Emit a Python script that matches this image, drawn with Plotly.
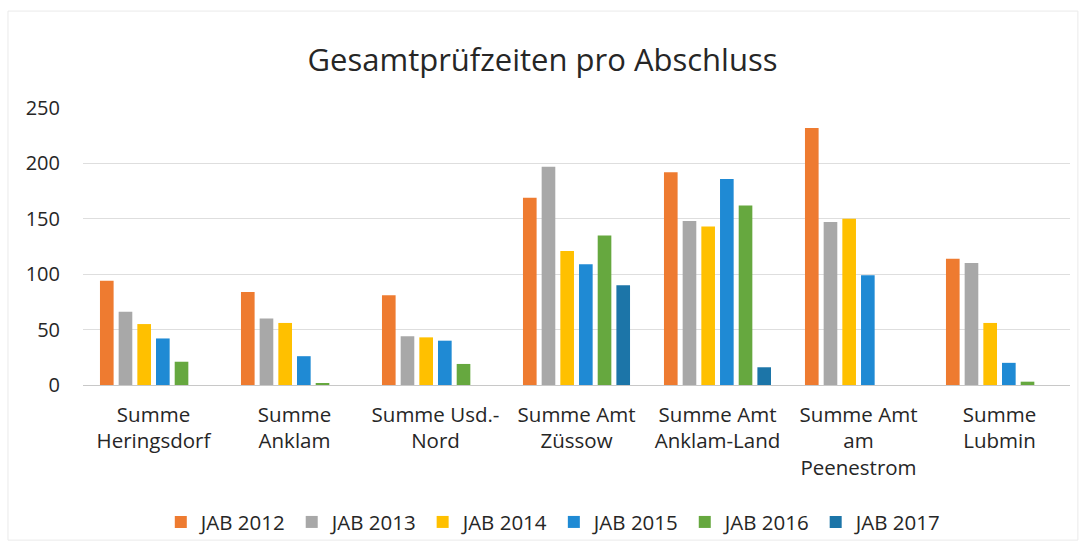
import plotly.graph_objects as go

categories = ["Summe<br>Heringsdorf", "Summe<br>Anklam", "Summe Usd.-<br>Nord",
              "Summe Amt<br>Züssow", "Summe Amt<br>Anklam-Land", "Summe Amt<br>am<br>Peenestrom",
              "Summe<br>Lubmin"]

jab_2012 = [94, 84, 81, 169, 192, 232, 114]
jab_2013 = [66, 60, 44, 197, 148, 147, 110]
jab_2014 = [55, 56, 43, 121, 143, 150, 56]
jab_2015 = [42, 26, 40, 109, 186, 99, 20]
jab_2016 = [21, 1, 19, 135, 162, None, 3]
jab_2017 = [None, None, None, 90, 16, None, None]

series_names = ["JAB 2012", "JAB 2013", "JAB 2014", "JAB 2015", "JAB 2016", "JAB 2017"]
series_values = [jab_2012, jab_2013, jab_2014, jab_2015, jab_2016, jab_2017]
colors = ["#EE7B30", "#A8A8A8", "#FFC000", "#1F8AD4", "#66A83F", "#1C75A8"]

y_ticks = [0, 50, 100, 150, 200, 250]

FONT = "Open Sans"

fig = go.Figure()
for name, vals, col in zip(series_names, series_values, colors):
    fig.add_trace(go.Bar(name=name, x=categories, y=vals, marker_color=col,
                         marker_line_width=0))

fig.update_layout(
    width=1085, height=548,
    paper_bgcolor="white", plot_bgcolor="white",
    margin=dict(l=83, r=15, t=108, b=163, autoexpand=False),
    barmode="group", bargap=0.205, bargroupgap=0.27,
    font=dict(family=FONT, color="#262626"),
    title=dict(text="Gesamtprüfzeiten pro Abschluss", x=0.5, xanchor="center",
               y=1 - 60 / 548, yanchor="middle",
               font=dict(family=FONT, size=31, color="#262626")),
    legend=dict(orientation="h", x=0.477, xanchor="center", y=-0.495, yanchor="middle",
                font=dict(family=FONT, size=20.5, color="#262626"),
                itemwidth=30, tracegroupgap=0, bgcolor="rgba(0,0,0,0)"),
    showlegend=True,
)
fig.update_xaxes(showgrid=False, showline=True, linecolor="#C8C8C8", linewidth=1,
                 ticks="", tickfont=dict(family=FONT, size=20.5, color="#262626"),
                 tickangle=0, ticklabelstandoff=11, automargin=False)
fig.update_yaxes(range=[0, 250], tickvals=y_ticks, showgrid=True, gridcolor="#DEDEDE",
                 gridwidth=1, zeroline=False, showline=False, ticks="",
                 ticklabelstandoff=22, automargin=False,
                 tickfont=dict(family=FONT, size=20, color="#262626"))

# faint chart border like the Excel chart frame
fig.add_shape(type="rect", xref="paper", yref="paper",
              x0=-0.076, x1=1.008, y0=-0.56, y1=1.35,
              line=dict(color="#EAEAEA", width=1), fillcolor="rgba(0,0,0,0)")

fig.write_html("out.html", config={"displayModeBar": False},
               post_script="document.body.style.margin='0px';")
